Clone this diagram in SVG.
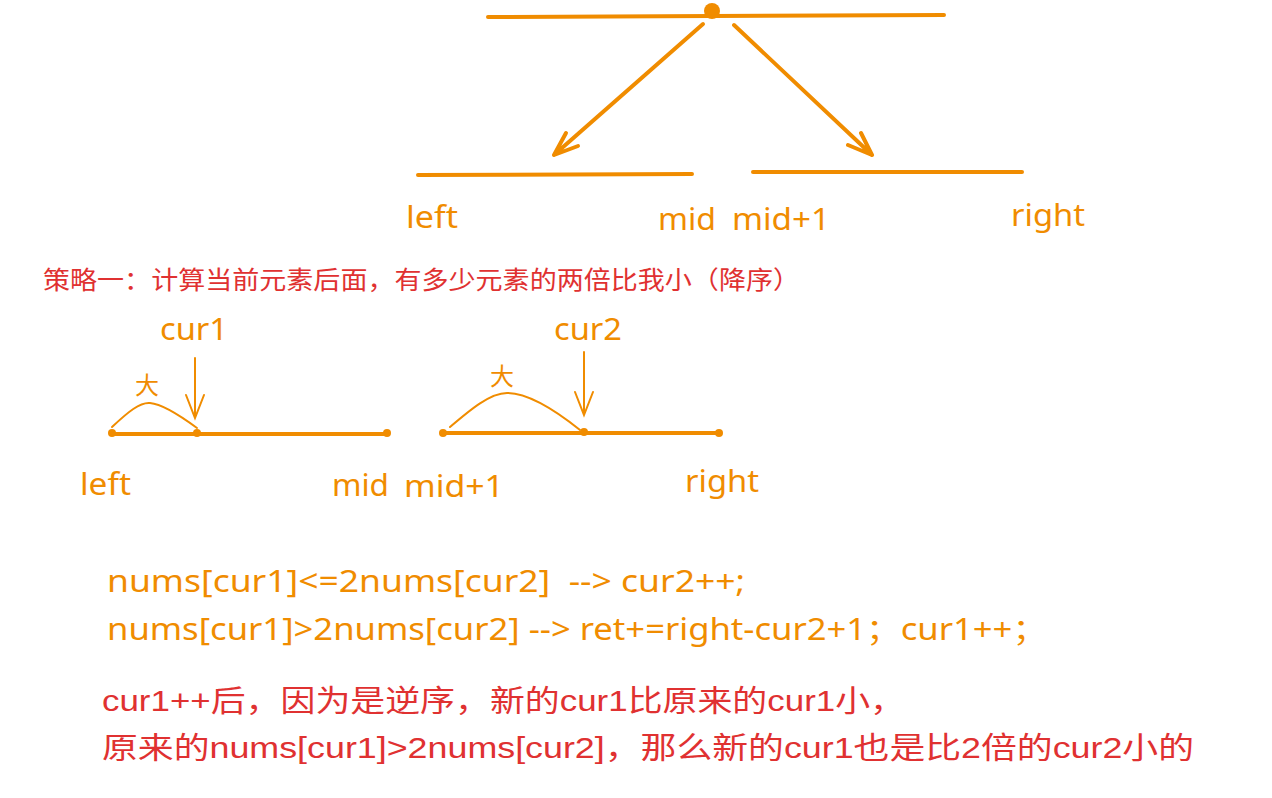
<svg xmlns="http://www.w3.org/2000/svg" width="1272" height="798" viewBox="0 0 1272 798">
<style>
.ln{stroke:#F08C00;stroke-width:4;stroke-linecap:round;fill:none}
.thin{stroke:#F08C00;stroke-width:2;stroke-linecap:round;fill:none}
.o{fill:#F08C00;font-family:"Noto Sans","Liberation Sans","Noto Sans CJK SC",sans-serif}
.r{fill:#E03131;font-family:"Liberation Sans","Noto Sans CJK SC",sans-serif}
.dot{fill:#F08C00}
</style>
<rect width="1272" height="798" fill="#fff"/>
<g id="top-split">
<path class="ln" d="M488 17 L944 15"/>
<circle class="dot" cx="712" cy="11" r="8"/>
<path class="ln" d="M418 175 L692 174"/>
<path class="ln" d="M753 172 L1022 172"/>
</g>
<g id="connectors">
<path class="ln" d="M703 24 L554 155 M554 155 L566 133 M554 155 L578 146"/>
<path class="ln" d="M734 25 L872 155 M872 155 L861 133 M872 155 L848 145"/>
<path class="thin" d="M195 358 L195 418 M186 395 L195 418 L204 395"/>
<path class="thin" d="M584 352 L584 415 M575 392 L584 415 L593 392"/>
</g>
<g id="top-labels" font-size="30">
<text class="o" x="406" y="228" textLength="52" lengthAdjust="spacingAndGlyphs">left</text>
<text class="o" x="658" y="230" textLength="58" lengthAdjust="spacingAndGlyphs">mid</text>
<text class="o" x="732" y="230" textLength="98" lengthAdjust="spacingAndGlyphs">mid+1</text>
<text class="o" x="1011" y="226" textLength="74" lengthAdjust="spacingAndGlyphs">right</text>
</g>
<g id="strategy-title">
<text class="r" x="43" y="289" font-size="25" textLength="757" lengthAdjust="spacingAndGlyphs">策略一：计算当前元素后面，有多少元素的两倍比我小（降序）</text>
</g>
<g id="left-array">
<path class="ln" d="M112 434 L387 434"/>
<circle class="dot" cx="112" cy="433" r="4"/>
<circle class="dot" cx="197" cy="433" r="4"/>
<circle class="dot" cx="387" cy="433" r="4"/>
<path class="thin" d="M112 427 C128 412 140 402 150 403 C162 404 178 414 197 428"/>
<text class="o" x="135" y="394" font-size="24">大</text>
<text class="o" x="160" y="340" font-size="30" textLength="68" lengthAdjust="spacingAndGlyphs">cur1</text>
<text class="o" x="80" y="495" font-size="30" textLength="51" lengthAdjust="spacingAndGlyphs">left</text>
<text class="o" x="332" y="496" font-size="30" textLength="57" lengthAdjust="spacingAndGlyphs">mid</text>
</g>
<g id="right-array">
<path class="ln" d="M443 433 L719 433"/>
<circle class="dot" cx="443" cy="433" r="4"/>
<circle class="dot" cx="584" cy="432" r="4"/>
<circle class="dot" cx="719" cy="433" r="4"/>
<path class="thin" d="M450 427 C470 410 490 393 507 393 C527 393 555 410 580 430"/>
<text class="o" x="490" y="385" font-size="24">大</text>
<text class="o" x="554" y="340" font-size="30" textLength="68" lengthAdjust="spacingAndGlyphs">cur2</text>
<text class="o" x="404" y="497" font-size="30" textLength="100" lengthAdjust="spacingAndGlyphs">mid+1</text>
<text class="o" x="685" y="492" font-size="30" textLength="74" lengthAdjust="spacingAndGlyphs">right</text>
</g>
<g id="code">
<text class="o" x="107" y="592" font-size="30" textLength="638" lengthAdjust="spacingAndGlyphs" xml:space="preserve">nums[cur1]&lt;=2nums[cur2]  --&gt; cur2++;</text>
<text class="o" x="107" y="640" font-size="30" textLength="940" lengthAdjust="spacingAndGlyphs">nums[cur1]&gt;2nums[cur2] --&gt; ret+=right-cur2+1；cur1++；</text>
</g>
<g id="explanation">
<text class="r" x="102" y="711" font-size="30" textLength="803" lengthAdjust="spacingAndGlyphs">cur1++后，因为是逆序，新的cur1比原来的cur1小，</text>
<text class="r" x="102" y="758" font-size="30" textLength="1092" lengthAdjust="spacingAndGlyphs">原来的nums[cur1]&gt;2nums[cur2]，那么新的cur1也是比2倍的cur2小的</text>
</g>
</svg>
